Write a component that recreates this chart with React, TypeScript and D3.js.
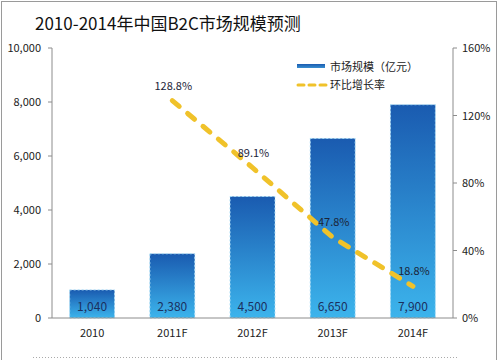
import React from "react";
import * as d3 from "d3";

const categories = ["2010", "2011F", "2012F", "2013F", "2014F"];
const marketSize = [1040, 2380, 4500, 6650, 7900];
const growthCats = ["2011F", "2012F", "2013F", "2014F"];
const growthRate = [128.8, 89.1, 47.8, 18.8];
const leftTicks = [0, 2000, 4000, 6000, 8000, 10000];
const rightTicks = [0, 40, 80, 120, 160];
const title = "2010-2014年中国B2C市场规模预测";
const legendBar = "市场规模（亿元）";
const legendLine = "环比增长率";

const W = 500, H = 360;
const left = 52, right = 453, top = 48, bottom = 318;
const font = "'Noto Sans CJK SC', 'Open Sans', sans-serif";

export default function App() {
  const x = d3.scaleBand().domain(categories).range([left, right]).paddingInner(0.44).paddingOuter(0.22);
  const yL = d3.scaleLinear().domain([0, 10000]).range([bottom, top]);
  const yR = d3.scaleLinear().domain([0, 160]).range([bottom, top]);
  const fmt = d3.format(",");
  const cx = (c: string) => (x(c) as number) + x.bandwidth() / 2;
  const line = d3.line<number>().x((_, i) => cx(growthCats[i])).y((d) => yR(d));

  return (
    <svg width={W} height={H} style={{ position: "absolute", left: 0, top: 0, background: "#fff" }}>
      <defs>
        <linearGradient id="barGrad" x1="0" y1="0" x2="0" y2="1">
          <stop offset="0%" stopColor="#1a5bb0" />
          <stop offset="100%" stopColor="#3cb4ec" />
        </linearGradient>
        <linearGradient id="legGrad" x1="0" y1="0" x2="0" y2="1">
          <stop offset="0%" stopColor="#1a5bb0" />
          <stop offset="100%" stopColor="#3a8fd0" />
        </linearGradient>
      </defs>
      <rect x={1.5} y={1.5} width={495} height={370} fill="none" stroke="#9a9a9a" strokeWidth={1} />
      <text x={35} y={30} fontFamily={font} fontSize={17} fill="#111">{title}</text>

      {/* bars */}
      {categories.map((c, i) => (
        <g key={c}>
          <rect x={x(c)} y={yL(marketSize[i])} width={x.bandwidth()} height={bottom - yL(marketSize[i])}
            fill="url(#barGrad)" stroke="#a8dcf5" strokeWidth={1} strokeDasharray="2,2" />
          <text x={cx(c)} y={311} textAnchor="middle" fontFamily={font} fontSize={12} fill="#1b2f5e">{fmt(marketSize[i])}</text>
          <text x={cx(c)} y={337} textAnchor="middle" fontFamily={font} fontSize={11} fill="#222">{c}</text>
        </g>
      ))}

      {/* axes */}
      <line x1={left} x2={left} y1={top} y2={bottom} stroke="#8c8c8c" />
      <line x1={right} x2={right} y1={top} y2={bottom} stroke="#8c8c8c" />
      <line x1={left} x2={right} y1={bottom} y2={bottom} stroke="#8c8c8c" />
      {leftTicks.map((t) => (
        <g key={t}>
          <line x1={left - 4} x2={left} y1={yL(t)} y2={yL(t)} stroke="#8c8c8c" />
          <text x={41} y={yL(t) + 4} textAnchor="end" fontFamily={font} fontSize={11} fill="#222">{fmt(t)}</text>
        </g>
      ))}
      {rightTicks.map((t) => (
        <g key={t}>
          <line x1={right} x2={right + 4} y1={yR(t)} y2={yR(t)} stroke="#8c8c8c" />
          <text x={462} y={yR(t) + 4} textAnchor="start" fontFamily={font} fontSize={11} fill="#222">{t + "%"}</text>
        </g>
      ))}

      {/* growth line */}
      <path d={line(growthRate) as string} fill="none" stroke="#f0c22a" strokeWidth={5} strokeDasharray="9,11" strokeLinecap="round" />
      {growthRate.map((g, i) => (
        <text key={i} x={cx(growthCats[i]) + 1} y={yR(g) - 11} textAnchor="middle" fontFamily={font} fontSize={11} fill="#1b2438">{g.toFixed(1) + "%"}</text>
      ))}

      {/* legend */}
      <rect x={297} y={64} width={28} height={4} fill="url(#legGrad)" />
      <text x={330} y={71} fontFamily={font} fontSize={11} fill="#222">{legendBar}</text>
      <line x1={298} x2={326} y1={85} y2={85} stroke="#f0c22a" strokeWidth={3} strokeDasharray="6,5" strokeLinecap="round" />
      <text x={330} y={89} fontFamily={font} fontSize={11} fill="#222">{legendLine}</text>

      <line x1={33} x2={458} y1={357.5} y2={357.5} stroke="#aaa" strokeDasharray="1,2" />
    </svg>
  );
}
